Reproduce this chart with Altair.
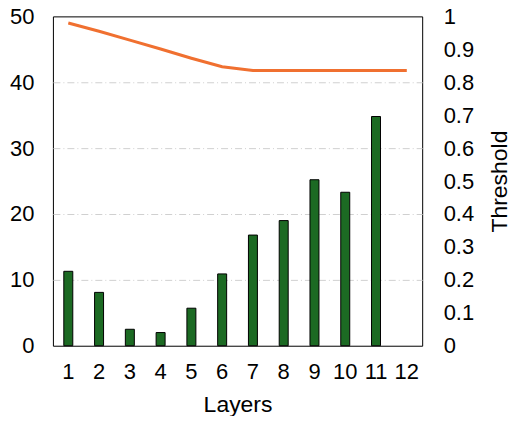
import altair as alt
import pandas as pd

layers = list(range(1, 13))
counts = [11.3, 8.1, 2.5, 2.0, 5.7, 10.9, 16.8, 19.0, 25.2, 23.3, 34.8, None]
threshold = [0.980, 0.955, 0.928, 0.901, 0.873, 0.847, 0.836, 0.836, 0.836, 0.836, 0.836, 0.836]

df = pd.DataFrame({"Layer": layers, "Count": counts, "Threshold": threshold})

FONT = "Liberation Sans"
LS = 22
TS = 23

x = alt.X("Layer:O", title="Layers",
          scale=alt.Scale(paddingInner=0, paddingOuter=0),
          axis=alt.Axis(labelAngle=0, ticks=False, domain=False, labelFontSize=LS,
                        labelPadding=16, titleFontSize=TS, titlePadding=11,
                        labelFont=FONT, titleFont=FONT, labelColor="black",
                        titleColor="black", titleFontWeight="normal"))

bars = alt.Chart(df).mark_bar(size=9, color="#1c6a23", stroke="black", strokeWidth=1).encode(
    x=x,
    y=alt.Y("Count:Q", title=None,
            scale=alt.Scale(domain=[0, 50], nice=False),
            axis=alt.Axis(values=[0, 10, 20, 30, 40, 50], ticks=False, domain=False,
                          grid=True, gridColor="#d0d0d0", gridDash=[7, 3, 1, 3], gridWidth=1,
                          gridOpacity={"condition": {"test": "datum.value === 0 || datum.value === 50", "value": 0}, "value": 1},
                          labelFontSize=LS, labelPadding=19, labelFont=FONT,
                          labelColor="black")),
)

line = alt.Chart(df).mark_line(color="#f07030", strokeWidth=3).encode(
    x=x,
    y=alt.Y("Threshold:Q", title="Threshold",
            scale=alt.Scale(domain=[0, 1], nice=False),
            axis=alt.Axis(orient="right", values=[0, 0.1, 0.2, 0.3, 0.4, 0.5, 0.6, 0.7, 0.8, 0.9, 1],
                          format="~g", ticks=False, domain=False, grid=False,
                          labelFontSize=LS, labelPadding=21, labelFont=FONT,
                          labelColor="black", titleFontSize=TS, titleFont=FONT,
                          titleColor="black", titleFontWeight="normal", titlePadding=38,
                          titleAngle=270)),
)

chart = alt.layer(bars, line).resolve_scale(y="independent").properties(
    width=370, height=330,
    autosize=alt.AutoSizeParams(type="none"),
    padding={"left": 45, "top": 8, "right": 88, "bottom": 70},
).configure_view(stroke="black", strokeWidth=1)

chart.save("out.html", embed_options={"renderer": "svg", "actions": False})
